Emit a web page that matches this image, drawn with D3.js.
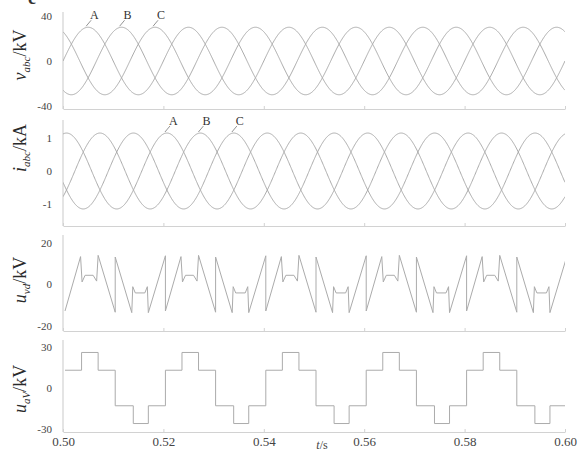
<!DOCTYPE html>
<html>
<head>
<meta charset="utf-8">
<script src="https://cdn.jsdelivr.net/npm/d3@7"></script>
<style>
  body { margin: 0; background: #fff; }
  svg { display: block; }
</style>
</head>
<body>
<script>
// ---- data ----
const phases = ["A", "B", "C"];
const timeDomain = [0.50, 0.60];          // s
const xTicks = [0.50, 0.52, 0.54, 0.56, 0.58, 0.60];
const period = 0.02;                       // 50 Hz fundamental
const phaseLag = [0, 1 / 3, 2 / 3];        // lag of A, B, C in periods

// phase voltages v_abc (sinusoidal source parameters)
const vAmplitude = 30;                     // kV
const vCrestA = 0.505;                     // s, first crest of phase A
const vTicks = [40, 0, -40];

// phase currents i_abc
const iAmplitude = 1.15;                   // kA
const iCrestA = 0.5007;                    // s
const iTicks = [1, 0, -1];

// u_vd: vertices over one period, offsets from the period start
const uvdStart = 0.5004;
const uvdOffsets = [0, 0.0031, 0.0034, 0.0040, 0.0056, 0.0063, 0.0066, 0.0100,
                    0.0100, 0.0133, 0.0135, 0.0140, 0.0159, 0.0164, 0.0166, 0.0200];
const uvdValues  = [-13, 13.2, 1, 4.2, 4.2, 1.4, 13.8, -13.6,
                    13, -13.8, -1.3, -4.3, -4.3, -1.3, -13.8, 13.6];
const uvdTicks = [20, 0, -20];

// u_aV: staircase levels and switching instants within one period
const stepStart = 0.5004;
const stepOffsets = [0, 0.0033, 0.0066, 0.0100, 0.0136, 0.0166];
const stepLevels  = [13, 26, 13, -13, -26, -13];
const uaTicks = [30, 0, -30];

// ---- layout ----
const W = 579, H = 452;
const left = 63, right = 565;
const lineColor = "#ababab";
const axisColor = "#d2d2d2";
const serif = "Liberation Serif, Times New Roman, DejaVu Serif, serif";

const svg = d3.select("body").append("svg").attr("width", W).attr("height", H);

const x = d3.scaleLinear().domain(timeDomain).range([left, right]);

// panels: tick scale pinned by two tick positions, frame spans top..bottom
const panels = [
  { key: "v",  ticks: vTicks,   dom: [-40, 40], rng: [106, 16],   top: 12,  bottom: 109,
    label: ["v", "abc", "/kV"], labelY: 55 },
  { key: "i",  ticks: iTicks,   dom: [-1, 1],   rng: [204, 138],  top: 120, bottom: 226,
    label: ["i", "abc", "/kA"], labelY: 148 },
  { key: "uvd", ticks: uvdTicks, dom: [-20, 20], rng: [325.5, 242.5], top: 235, bottom: 331,
    label: ["u", "vd", "/kV"], labelY: 280 },
  { key: "ua", ticks: uaTicks,  dom: [-30, 30], rng: [429, 347],  top: 340, bottom: 432,
    label: ["u", "aV", "/kV"], labelY: 389 }
];
panels.forEach(p => p.y = d3.scaleLinear().domain(p.dom).range(p.rng));

// ---- series ----
const sampleTimes = d3.range(timeDomain[0], timeDomain[1] + 1e-9, 0.0001);
function sinusoid(amp, crest, lag) {
  return sampleTimes.map(t => [t, amp * Math.cos(2 * Math.PI * (t - crest) / period - 2 * Math.PI * lag)]);
}
const vSeries = phases.map((ph, k) => sinusoid(vAmplitude, vCrestA, phaseLag[k]));
const iSeries = phases.map((ph, k) => sinusoid(iAmplitude, iCrestA, phaseLag[k]));

const uvdSeries = [];
for (let k = 0; uvdStart + k * period < timeDomain[1]; k++) {
  uvdOffsets.forEach((o, j) => uvdSeries.push([uvdStart + k * period + o, uvdValues[j]]));
}
const stepSeries = [];
for (let k = 0; stepStart + k * period < timeDomain[1]; k++) {
  stepOffsets.forEach((o, j) => stepSeries.push([stepStart + k * period + o, stepLevels[j]]));
}
stepSeries.push([timeDomain[1] + 0.001, stepSeries[stepSeries.length - 1][1]]);

panels[0].series = vSeries;
panels[1].series = iSeries;
panels[2].series = [uvdSeries];
panels[3].series = [stepSeries];
panels[3].curve = d3.curveStepAfter;

// ---- draw ----
// sub-figure mark, partly above the top edge
svg.append("text").attr("x", 28).attr("y", 4)
  .attr("font-family", serif).attr("font-size", 18).attr("font-weight", "bold")
  .attr("fill", "#333").text("c");

panels.forEach((p, idx) => {
  const g = svg.append("g");
  const clipId = "clip-" + p.key;
  svg.append("clipPath").attr("id", clipId).append("rect")
    .attr("x", left).attr("y", p.top - 2).attr("width", right - left).attr("height", p.bottom - p.top + 4);

  // frame: left axis line
  g.append("line").attr("x1", left).attr("x2", left).attr("y1", p.top).attr("y2", p.bottom)
    .attr("stroke", axisColor).attr("stroke-width", 1.2);

  // bottom axis with light ticks; labels only on the last panel
  const xa = d3.axisBottom(x).tickValues(xTicks).tickSizeInner(-3).tickSizeOuter(0).tickPadding(5)
    .tickFormat(idx === panels.length - 1 ? d3.format(".2f") : () => "");
  const gx = g.append("g").attr("transform", `translate(0,${p.bottom})`).call(xa);
  gx.select(".domain").attr("stroke", axisColor).attr("stroke-width", 1.2);
  gx.selectAll(".tick line").attr("stroke", axisColor);
  gx.selectAll(".tick text").attr("font-family", serif).attr("font-size", 13).attr("fill", "#444");

  // left tick labels
  const ya = d3.axisLeft(p.y).tickValues(p.ticks).tickSize(0).tickPadding(11)
    .tickFormat(d => String(d));
  const gy = g.append("g").attr("transform", `translate(${left},0)`).call(ya);
  gy.select(".domain").remove();
  gy.selectAll(".tick text").attr("font-family", serif).attr("font-size", 11).attr("fill", "#444");

  // rotated quantity label
  const t = svg.append("text")
    .attr("transform", `translate(26,${p.labelY}) rotate(-90)`)
    .attr("text-anchor", "middle")
    .attr("font-family", serif).attr("font-size", 18).attr("fill", "#2a2a2a");
  t.append("tspan").attr("font-style", "italic").text(p.label[0]);
  t.append("tspan").attr("font-style", "italic").attr("font-size", 11).attr("dy", 4).text(p.label[1]);
  t.append("tspan").attr("dy", -4).text(p.label[2]);

  const line = d3.line().x(d => x(d[0])).y(d => p.y(d[1])).curve(p.curve || d3.curveLinear);
  g.append("g").attr("clip-path", `url(#${clipId})`)
    .selectAll("path").data(p.series).join("path")
    .attr("d", line).attr("fill", "none")
    .attr("stroke", lineColor).attr("stroke-width", 1);
});

// phase annotations at crests
function annotate(p, crest, amp) {
  phases.forEach((ph, k) => {
    const tc = crest + phaseLag[k] * period;
    const px = x(tc), py = p.y(amp);
    svg.append("line").attr("x1", px - 2).attr("y1", py - 1).attr("x2", px + 3).attr("y2", py - 7)
      .attr("stroke", "#888").attr("stroke-width", 0.9);
    svg.append("text").attr("x", px + 2).attr("y", py - 8)
      .attr("font-family", serif).attr("font-size", 12).attr("fill", "#333").text(ph);
  });
}
annotate(panels[0], vCrestA, vAmplitude);
annotate(panels[1], iCrestA + period, iAmplitude);

// time axis title
const tt = svg.append("text").attr("x", 322).attr("y", 449).attr("text-anchor", "middle")
  .attr("font-family", serif).attr("font-size", 12).attr("fill", "#444");
tt.append("tspan").attr("font-style", "italic").text("t");
tt.append("tspan").text("/s");
</script>
</body>
</html>
